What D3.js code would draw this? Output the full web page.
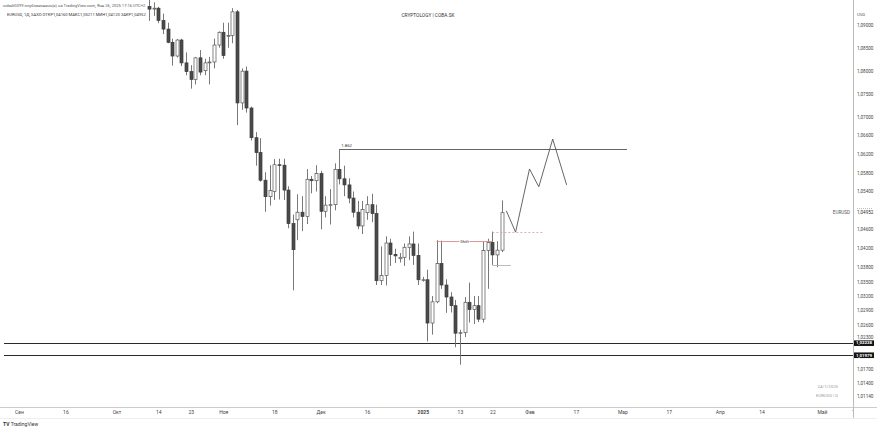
<!DOCTYPE html>
<html><head><meta charset="utf-8">
<script src="https://cdn.jsdelivr.net/npm/d3@7"></script>
<style>
html,body{margin:0;padding:0;background:#fff;}
svg{display:block;font-family:Roboto,"Liberation Sans",Arial,sans-serif;}
</style></head>
<body><svg id="c" width="882" height="431"></svg>
<script>
// ---- DATA ----
const firstDate = "2024-10-10";
const opens  = [1.0941,1.0935,1.0937,1.0910,1.0891,1.0862,1.0832,1.0867,1.0817,1.0798,1.0781,1.0828,1.0800,1.0817,1.0819,1.0856,1.0884,1.0876,1.0877,1.0929,1.0730,1.0799,1.0719,1.0655,1.0623,1.0564,1.0529,1.0540,1.0597,1.0596,1.0543,1.0472,1.0480,1.0496,1.0487,1.0566,1.0563,1.0578,1.0498,1.0511,1.0512,1.0587,1.0567,1.0554,1.0526,1.0496,1.0467,1.0495,1.0512,1.0493,1.0352,1.0363,1.0431,1.0407,1.0398,1.0401,1.0422,1.0429,1.0405,1.0354,1.0354,1.0264,1.0308,1.0388,1.0343,1.0318,1.0300,1.0243,1.0244,1.0307,1.0292,1.0300,1.0272,1.0415,1.0432,1.0406,1.0416];
const highs  = [1.0960,1.0950,1.0940,1.0925,1.0905,1.0870,1.0869,1.0870,1.0840,1.0812,1.0830,1.0845,1.0826,1.0830,1.0870,1.0886,1.0905,1.0905,1.0937,1.0933,1.0805,1.0809,1.0722,1.0667,1.0654,1.0581,1.0596,1.0609,1.0610,1.0610,1.0551,1.0491,1.0534,1.0530,1.0588,1.0573,1.0596,1.0584,1.0530,1.0545,1.0600,1.0630,1.0595,1.0568,1.0540,1.0520,1.0520,1.0530,1.0535,1.0512,1.0424,1.0445,1.0440,1.0419,1.0410,1.0430,1.0445,1.0455,1.0430,1.0360,1.0375,1.0320,1.0437,1.0436,1.0355,1.0328,1.0312,1.0250,1.0318,1.0348,1.0320,1.0320,1.0434,1.0440,1.0455,1.0435,1.0521];
const lows   = [1.0909,1.0920,1.0904,1.0880,1.0860,1.0811,1.0829,1.0810,1.0790,1.0761,1.0770,1.0790,1.0790,1.0770,1.0805,1.0850,1.0826,1.0850,1.0860,1.0682,1.0715,1.0709,1.0649,1.0595,1.0561,1.0497,1.0510,1.0522,1.0523,1.0522,1.0462,1.0332,1.0437,1.0456,1.0471,1.0536,1.0540,1.0460,1.0485,1.0470,1.0500,1.0555,1.0530,1.0515,1.0485,1.0460,1.0450,1.0480,1.0475,1.0343,1.0343,1.0342,1.0383,1.0389,1.0390,1.0383,1.0395,1.0385,1.0343,1.0350,1.0226,1.0240,1.0305,1.0335,1.0285,1.0286,1.0214,1.0178,1.0235,1.0265,1.0262,1.0266,1.0265,1.0335,1.0385,1.0380,1.0412];
const closes = [1.0935,1.0937,1.0910,1.0891,1.0862,1.0832,1.0867,1.0817,1.0798,1.0781,1.0828,1.0797,1.0817,1.0819,1.0856,1.0884,1.0833,1.0877,1.0929,1.0730,1.0799,1.0719,1.0655,1.0623,1.0564,1.0529,1.0542,1.0597,1.0596,1.0543,1.0472,1.0417,1.0496,1.0487,1.0566,1.0563,1.0578,1.0498,1.0511,1.0512,1.0587,1.0567,1.0554,1.0526,1.0496,1.0467,1.0502,1.0512,1.0493,1.0352,1.0363,1.0431,1.0407,1.0404,1.0401,1.0422,1.0429,1.0405,1.0354,1.0354,1.0264,1.0308,1.0388,1.0343,1.0318,1.0300,1.0243,1.0244,1.0307,1.0292,1.0300,1.0272,1.0415,1.0432,1.0406,1.0416,1.0495];

const yTickValues = [1.09,1.085,1.08,1.075,1.07,1.066,1.062,1.058,1.054,1.046,1.042,1.038,1.035,1.032,1.029,1.026,1.023,1.017,1.014,1.0114];
const xTickDates  = ["2024-09-02","2024-09-16","2024-10-01","2024-10-14","2024-10-23","2024-11-01","2024-11-18","2024-12-02","2024-12-16","2025-01-01","2025-01-13","2025-01-22","2025-02-03","2025-02-17","2025-03-03","2025-03-17","2025-04-01","2025-04-14","2025-05-01","2025-05-12"];
const xTickLabels = ["Сен","16","Окт","14","23","Ноя","18","Дек","16","2025","13","22","Фев","17","Мар","17","Апр","14","Май","12"];

const levelLines   = [1.02228, 1.01979];
const lastPrice    = 1.04952;
const swingHigh    = {date:"2024-12-06", endOffset:62, price:1.0630, label:"1.862"};
const shiftLine    = {from:"2025-01-06", to:"2025-01-22", price:1.04355, label:"Shift"};
const dashedLine   = {from:"2025-01-22", bars:11, price:1.0455};
const grayLine     = {from:"2025-01-22", bars:4, price:1.0385};
const projOffsets  = [1, 3, 6, 8, 11, 14];
const projPrices   = [1.0499, 1.0454, 1.0588, 1.0550, 1.0652, 1.0554];

const headerLine1 = "cobalt0099 опубликовано(а) на TradingView.com, Янв 26, 2025 17:16 UTC+2";
const headerLine2 = "EURUSD, 1Д, SAXO  ОТКР1,04160  МАКС1,05211  МИН1,04120  ЗАКР1,04952";
const watermark   = "CRYPTOLOGY | COBA.SK";

// ---- helpers ----
const origin = new Date("2024-09-02T00:00:00Z");
function tIdx(s){
  const d = new Date(s+"T00:00:00Z"); let n=0;
  for(let t=new Date(origin); t<d; t.setUTCDate(t.getUTCDate()+1)){
    const w=t.getUTCDay(); if(w!==0&&w!==6) n++;
  }
  return n;
}
const startIdx = tIdx(firstDate);
const candles = opens.map((o,i)=>({i:startIdx+i,o,h:highs[i],l:lows[i],c:closes[i]}));
const lastIdx = candles[candles.length-1].i;

const W=882, H=431, PR=853, PB=407;
const x = d3.scaleLinear().domain([0,180]).range([19, 19+180*4.641]);
const y = d3.scaleLog().domain([1.0114,1.09]).range([396,25]);
const fmt = v => v.toFixed(5).replace(".", ",");

const svg = d3.select("#c");
svg.append("rect").attr("width",W).attr("height",H).attr("fill","#fff");
const defs = svg.append("defs");
defs.append("clipPath").attr("id","pane").append("rect").attr("x",0).attr("y",0).attr("width",PR).attr("height",PB);
defs.append("clipPath").attr("id","xax").append("rect").attr("x",0).attr("y",PB).attr("width",PR).attr("height",12);

const pane = svg.append("g").attr("clip-path","url(#pane)");

// level lines
pane.selectAll("line.lvl").data(levelLines).join("line")
  .attr("x1",4).attr("x2",PR).attr("y1",d=>Math.round(y(d))+0.5).attr("y2",d=>Math.round(y(d))+0.5)
  .attr("stroke","#2a2a2a").attr("stroke-width",1);

// swing high line
const shY = Math.round(y(swingHigh.price))+0.5, shI = tIdx(swingHigh.date);
pane.append("line").attr("x1",x(shI)).attr("x2",x(shI+swingHigh.endOffset)).attr("y1",shY).attr("y2",shY)
  .attr("stroke","#555").attr("stroke-width",0.9);
pane.append("text").attr("x",x(shI)+2).attr("y",shY-2.5).attr("font-size",4.3).attr("fill","#333").text(swingHigh.label);

// candles
const cg = pane.append("g");
cg.selectAll("line.wick").data(candles).join("line")
  .attr("x1",d=>Math.round(x(d.i))+0.5).attr("x2",d=>Math.round(x(d.i))+0.5)
  .attr("y1",d=>y(d.h)).attr("y2",d=>y(d.l)).attr("stroke","#6a6a6a").attr("stroke-width",0.9);
cg.selectAll("rect.body").data(candles).join("rect")
  .attr("x",d=>Math.round(x(d.i))-1).attr("width",3)
  .attr("y",d=>y(Math.max(d.o,d.c))).attr("height",d=>Math.max(0.8,Math.abs(y(d.o)-y(d.c))))
  .attr("fill",d=>d.c<d.o?"#4a4a4a":"#fff")
  .attr("stroke",d=>d.c<d.o?"#3a3a3a":"#555").attr("stroke-width",0.7);

// shift line
const sfY = Math.round(y(shiftLine.price))+0.5;
const sfX1 = x(tIdx(shiftLine.from)), sfX2 = x(tIdx(shiftLine.to));
pane.append("line").attr("x1",sfX1).attr("x2",sfX2).attr("y1",sfY).attr("y2",sfY).attr("stroke","#e08a8a").attr("stroke-width",0.9);
const sfMid=(sfX1+sfX2)/2;
pane.append("rect").attr("x",sfMid-5).attr("y",sfY-2.5).attr("width",10).attr("height",5).attr("fill","#fff");
pane.append("text").attr("x",sfMid).attr("y",sfY+1.5).attr("text-anchor","middle").attr("font-size",4.2).attr("fill","#333").text(shiftLine.label);

// dashed line
const dI = tIdx(dashedLine.from), dY = Math.round(y(dashedLine.price))+0.5;
pane.append("line").attr("x1",x(dI)).attr("x2",x(dI+dashedLine.bars)).attr("y1",dY).attr("y2",dY)
  .attr("stroke","#d99a9a").attr("stroke-width",0.8).attr("stroke-dasharray","2,2");
// gray line
const gI = tIdx(grayLine.from), gY = Math.round(y(grayLine.price))+0.5;
pane.append("line").attr("x1",x(gI)).attr("x2",x(gI+grayLine.bars)).attr("y1",gY).attr("y2",gY)
  .attr("stroke","#aaa").attr("stroke-width",0.8);

// projection zigzag
const proj = projOffsets.map((o,k)=>[x(lastIdx+o), y(projPrices[k])]);
pane.append("path").attr("d",d3.line()(proj)).attr("fill","none").attr("stroke","#555").attr("stroke-width",0.9);

// frame lines
svg.append("line").attr("x1",0).attr("x2",877).attr("y1",PB+0.5).attr("y2",PB+0.5).attr("stroke","#ccc");
svg.append("line").attr("x1",0).attr("x2",877).attr("y1",418.5).attr("y2",418.5).attr("stroke","#eee");
svg.append("line").attr("x1",PR+0.5).attr("x2",PR+0.5).attr("y1",0).attr("y2",418).attr("stroke","#bbb");

// right axis
const ya = svg.append("g").attr("transform",`translate(${PR+1},0)`)
  .call(d3.axisRight(y).tickValues(yTickValues).tickFormat(fmt).tickSize(0).tickPadding(3));
ya.select(".domain").remove();
ya.selectAll("text").attr("font-size",4.6).attr("fill","#444").attr("font-family","Roboto,Arial,sans-serif")
  .attr("dy",d=>d===1.023?"-0.25em":"0.32em");

// last price label
svg.append("line").attr("x1",857).attr("x2",873).attr("y1",y(lastPrice)-4).attr("y2",y(lastPrice)-4)
  .attr("stroke","#888").attr("stroke-width",0.6).attr("stroke-dasharray","1,1");
svg.append("text").attr("x",PR+4).attr("y",y(lastPrice)).attr("dy","0.32em").attr("font-size",4.6).attr("fill","#333").text(fmt(lastPrice));
svg.append("text").attr("x",850).attr("y",y(lastPrice)).attr("dy","0.32em").attr("text-anchor","end").attr("font-size",4.6).attr("fill","#555").text("EURUSD");

// black level labels
const lb = svg.append("g").selectAll("g").data(levelLines).join("g");
lb.append("rect").attr("x",854).attr("y",d=>y(d)-2.6).attr("width",20).attr("height",5.6).attr("fill","#131313");
lb.append("text").attr("x",864).attr("y",d=>y(d)).attr("dy","0.33em").attr("text-anchor","middle")
  .attr("font-size",4.4).attr("fill","#fff").attr("font-weight","bold").text(d=>fmt(d));

svg.append("text").attr("x",857).attr("y",16).attr("font-size",4.3).attr("fill","#555").text("USD");

// bottom axis
const xa = svg.append("g").attr("clip-path","url(#xax)").append("g").attr("transform",`translate(0,${PB})`)
  .call(d3.axisBottom(x).tickValues(xTickDates.map(tIdx)).tickFormat((d,i)=>xTickLabels[i]).tickSize(0).tickPadding(3));
xa.select(".domain").remove();
xa.selectAll("text").attr("font-size",5).attr("fill","#444").attr("font-family","Roboto,Arial,sans-serif")
  .attr("font-weight",(d,i)=>xTickLabels[i]==="2025"?"bold":"normal");

// texts
svg.append("text").attr("x",3).attr("y",7).attr("font-size",4.1).attr("fill","#555").text(headerLine1);
svg.append("text").attr("x",7).attr("y",16).attr("font-size",4.1).attr("fill","#333").text(headerLine2);
svg.append("text").attr("x",428).attr("y",17).attr("text-anchor","middle").attr("font-size",4.8).attr("fill","#333").text(watermark);
svg.append("text").attr("x",838).attr("y",388).attr("text-anchor","end").attr("font-size",4.3).attr("fill","#999").text("24/1/2025");
svg.append("text").attr("x",838).attr("y",397).attr("text-anchor","end").attr("font-size",4.3).attr("fill","#999").text("EURUSD | D");
const logo = svg.append("text").attr("x",3).attr("y",426).attr("font-size",5).attr("fill","#333");
logo.append("tspan").attr("font-weight","bold").text("TV ");
logo.append("tspan").text("TradingView");
</script></body></html>
